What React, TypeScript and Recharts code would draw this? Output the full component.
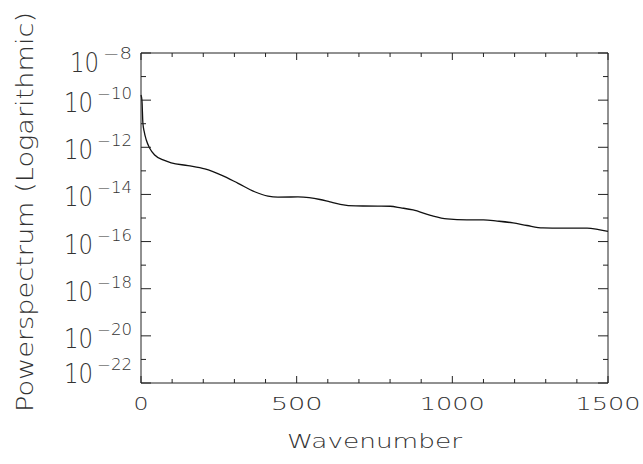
import React from "react";
import { LineChart, Line, XAxis, YAxis } from "recharts";

const WAVENUMBER = [0, 3, 6, 10, 17, 28, 44, 71, 97, 151, 205, 258, 312, 365, 408, 440, 504, 540, 575, 607, 640, 690, 761, 800, 835, 874, 930, 983, 1047, 1100, 1144, 1195, 1240, 1291, 1350, 1433, 1470, 1500];
const POWER = [1.66e-10, 1.0e-10, 1.1e-11, 4.8e-12, 2.04e-12, 9.1e-13, 4.7e-13, 2.9e-13, 2.2e-13, 1.66e-13, 1.2e-13, 6.6e-14, 2.95e-14, 1.3e-14, 8.5e-15, 7.7e-15, 7.8e-15, 7.3e-15, 6.1e-15, 4.8e-15, 3.8e-15, 3.25e-15, 3.2e-15, 3.15e-15, 2.7e-15, 2.2e-15, 1.3e-15, 9.1e-16, 8.3e-16, 8.3e-16, 7.4e-16, 6.2e-16, 4.8e-16, 3.8e-16, 3.7e-16, 3.7e-16, 3.2e-16, 2.7e-16];

const X_TICKS = [0, 100, 200, 300, 400, 500, 600, 700, 800, 900, 1000, 1100, 1200, 1300, 1400, 1500];
const X_LABELS = [0, 500, 1000, 1500];
const Y_EXPONENTS = [-22, -21, -20, -19, -18, -17, -16, -15, -14, -13, -12, -11, -10, -9, -8];
const Y_LABELED = [-22, -20, -18, -16, -14, -12, -10, -8];

const X_TITLE = "Wavenumber";
const Y_TITLE = "Powerspectrum  (Logarithmic)";

const data = WAVENUMBER.map((w, i) => ({ w, p: POWER[i] }));
const Y_TICKS = Y_EXPONENTS.map((e) => Math.pow(10, e));

const INK = "#222";
const TXT = "#333";
const FONT = "'DejaVu Sans', sans-serif";
const FW = 200;

const expOf = (v: number) => Math.round(Math.log10(v));

const BottomTick = (props: any) => {
  const { x, y, payload } = props;
  const v = payload.value;
  const major = v % 500 === 0;
  const labeled = X_LABELS.includes(v);
  const s = String(v);
  const w = s.length === 1 ? 15 : s.length === 3 ? 52 : 65;
  return (
    <g>
      <line x1={x} x2={x} y1={y} y2={y - (major ? 7 : 4)} stroke={INK} strokeWidth={1} />
      {labeled && (
        <text x={x} y={y + 27} textAnchor="middle" textLength={w} lengthAdjust="spacingAndGlyphs"
          fontSize={18} fontFamily={FONT} fontWeight={FW} fill={TXT}>{s}</text>
      )}
    </g>
  );
};

const TopTick = (props: any) => {
  const { x, y, payload } = props;
  const major = payload.value % 500 === 0;
  return <line x1={x} x2={x} y1={y} y2={y + (major ? 7 : 4)} stroke={INK} strokeWidth={1} />;
};

const LeftTick = (props: any) => {
  const { x, y, payload } = props;
  const e = expOf(payload.value);
  const major = e % 2 === 0;
  const labeled = Y_LABELED.includes(e);
  const expStr = "\u2212" + Math.abs(e);
  const expW = expStr.length === 2 ? 29 : 35;
  const expEnd = x - 9;
  const expStart = expEnd - expW;
  const tenStart = expStart - 4 - 29;
  const base = e === -8 ? y + 19 : e === -22 ? y : y + 12;
  return (
    <g>
      <line x1={x} x2={x + (major ? 10 : 5)} y1={y} y2={y} stroke={INK} strokeWidth={1} />
      {labeled && (
        <g fontFamily={FONT} fontWeight={FW} fill={TXT}>
          <text x={tenStart} y={base} fontSize={27} textLength={29} lengthAdjust="spacingAndGlyphs">10</text>
          <text x={expStart} y={base - 13} fontSize={15} textLength={expW} lengthAdjust="spacingAndGlyphs">{expStr}</text>
        </g>
      )}
    </g>
  );
};

const RightTick = (props: any) => {
  const { x, y, payload } = props;
  const e = expOf(payload.value);
  const major = e % 2 === 0;
  return <line x1={x} x2={x - (major ? 10 : 5)} y1={y} y2={y} stroke={INK} strokeWidth={1} />;
};

const XTitle = (props: any) => {
  const vb = props.viewBox;
  return (
    <text x={vb.x + vb.width / 2} y={vb.y + 65} textAnchor="middle" textLength={175} lengthAdjust="spacingAndGlyphs"
      fontSize={20} fontFamily={FONT} fontWeight={FW} fill={TXT}>{X_TITLE}</text>
  );
};

const YTitle = (props: any) => {
  const vb = props.viewBox;
  const cx = 33;
  const cy = vb.y + vb.height / 2 - 6;
  return (
    <text x={cx} y={cy} transform={`rotate(-90, ${cx}, ${cy})`} textAnchor="middle" textLength={400}
      lengthAdjust="spacingAndGlyphs" fontSize={23} fontFamily={FONT} fontWeight={FW} fill={TXT}>{Y_TITLE}</text>
  );
};

export default function App() {
  return (
    <div style={{ position: "absolute", left: 0, top: 0, width: 643, height: 464, background: "#fff" }}>
      <LineChart width={643} height={464} data={data} margin={{ top: 52, right: 34, bottom: 0, left: 0 }}>
        <XAxis xAxisId="b" dataKey="w" type="number" domain={[0, 1500]} ticks={X_TICKS} interval={0}
          orientation="bottom" height={81} tickSize={0} tickMargin={0} axisLine={{ stroke: INK, strokeWidth: 1 }}
          tickLine={false} tick={BottomTick} label={{ content: XTitle } as any} />
        <XAxis xAxisId="t" dataKey="w" type="number" domain={[0, 1500]} ticks={X_TICKS} interval={0}
          orientation="top" height={1} tickSize={0} tickMargin={0} axisLine={{ stroke: INK, strokeWidth: 1 }}
          tickLine={false} tick={TopTick} />
        <YAxis yAxisId="l" type="number" scale="log" domain={[1e-22, 1e-8]} allowDataOverflow ticks={Y_TICKS}
          interval={0} width={141} tickSize={0} tickMargin={0} axisLine={{ stroke: INK, strokeWidth: 1 }}
          tickLine={false} tick={LeftTick} label={{ content: YTitle } as any} />
        <YAxis yAxisId="r" orientation="right" type="number" scale="log" domain={[1e-22, 1e-8]} allowDataOverflow
          ticks={Y_TICKS} interval={0} width={1} tickSize={0} tickMargin={0}
          axisLine={{ stroke: INK, strokeWidth: 1 }} tickLine={false} tick={RightTick} />
        <Line xAxisId="b" yAxisId="l" dataKey="p" type="monotone" stroke="#111" strokeWidth={1.3} dot={false}
          isAnimationActive={false} />
      </LineChart>
    </div>
  );
}
